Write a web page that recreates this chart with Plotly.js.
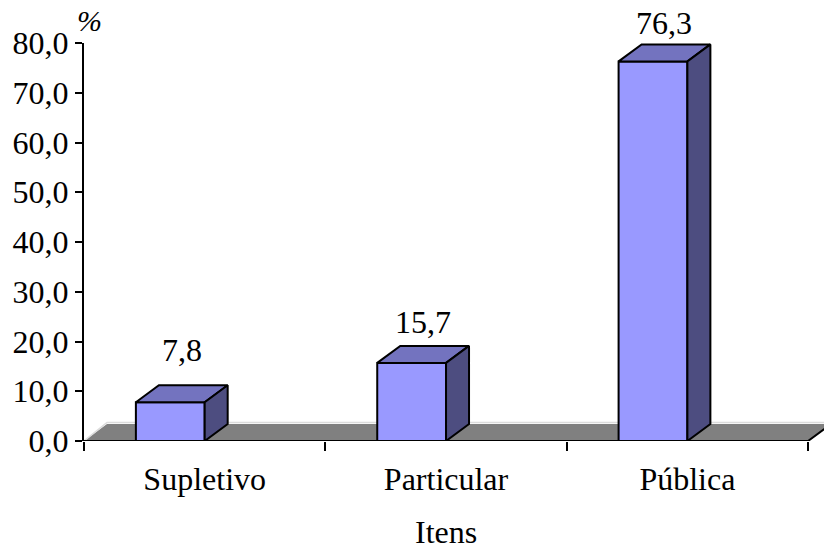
<!DOCTYPE html>
<html><head><meta charset="utf-8">
<script src="https://cdn.plot.ly/plotly-3.0.1.min.js"></script>
<style>html,body{margin:0;padding:0;background:#fff}#chart{width:824px;height:552px}</style>
</head><body><div id="chart"></div>
<script>
// ---- data ----
const categories = ['Supletivo', 'Particular', 'Pública'];
const values = [7.8, 15.7, 76.3];
const yTicks = [0, 10, 20, 30, 40, 50, 60, 70, 80];
const xTitle = 'Itens';
const yUnit = '%';

// ---- geometry / style ----
const DX = 0.0953;          // 3D depth (x units)
const DY = 3.42;            // 3D depth (y units)
const FRONT_L = -0.285;     // front face left, relative to category index
const FRONT_R = 0.0;        // front face right
const labelShift = [35, 24, 21];
const FONT = 'Liberation Serif, Times New Roman, serif';
const FS = 32;
const cFront = '#9999FF', cTop = '#7373BF', cSide = '#4D4D80', cFloor = '#808080';

const xs = categories.map((c, i) => i);
const xMin = -0.5, xMax = -0.5 + 740 / 241.35;

const traces = [];
const poly = (px, py, fill, lw, lc) => ({
  type: 'scatter', mode: 'lines', x: px, y: py, fill: 'toself', fillcolor: fill,
  line: {color: lc || '#000', width: lw}, hoverinfo: 'skip', showlegend: false
});
// floor
const fL = xMin, fR = xs[xs.length - 1] + 0.5;
traces.push(poly([fL, fR, fR + DX, fL + DX, fL], [0, 0, DY, DY, 0], cFloor, 0, cFloor));
traces.push({type: 'scatter', mode: 'lines', x: [fL, fL + DX, fR + DX + 0.2], y: [0, DY + 0.3, DY + 0.3],
  line: {color: '#dcdcdc', width: 1.5}, hoverinfo: 'skip', showlegend: false});
traces.push({type: 'scatter', mode: 'lines', x: [fL, fR, fR + DX], y: [0, 0, DY],
  line: {color: '#000', width: 2}, hoverinfo: 'skip', showlegend: false});

// bars
xs.forEach((x, i) => {
  const v = values[i];
  const l = x + FRONT_L, r = x + FRONT_R;
  traces.push(poly([l, r, r, l, l], [0, 0, v, v, 0], cFront, 2));
  traces.push(poly([l, r, r + DX, l + DX, l], [v, v, v + DY, v + DY, v], cTop, 2));
  traces.push(poly([r, r + DX, r + DX, r, r], [0, DY, v + DY, v, 0], cSide, 2));
});
// dummy trace for category axis
traces.push({type: 'scatter', mode: 'markers', x: [xs[0]], y: [0], xaxis: 'x2', yaxis: 'y',
  marker: {opacity: 0}, hoverinfo: 'skip', showlegend: false});

const annotations = xs.map((x, i) => ({
  x: x + FRONT_L + (FRONT_R - FRONT_L + DX) / 2, y: values[i] + DY, xref: 'x', yref: 'y',
  text: values[i].toFixed(1).replace('.', ','), showarrow: false, yanchor: 'middle', xanchor: 'center',
  yshift: labelShift[i], font: {family: FONT, size: FS, color: '#000'}
}));
annotations.push({x: xs[1], xref: 'x', y: 0, yref: 'paper', text: xTitle, showarrow: false,
  yanchor: 'middle', yshift: -91, borderpad: 0, font: {family: FONT, size: FS, color: '#000'}});
annotations.push({x: 0, xref: 'paper', y: 1, yref: 'paper', text: '<i>' + yUnit + '</i>', showarrow: false,
  xanchor: 'center', yanchor: 'middle', xshift: 5, yshift: 23, font: {family: FONT, size: 30, color: '#000'}});

const layout = {
  width: 824, height: 552,
  margin: {l: 84, r: 0, t: 43, b: 111, pad: 0},
  paper_bgcolor: '#fff', plot_bgcolor: '#fff',
  separators: ',.',
  showlegend: false,
  font: {family: FONT, size: FS, color: '#000'},
  xaxis: {range: [xMin, xMax], tickvals: [-0.5, 0.5, 1.5, 2.5], ticktext: ['', '', '', ''],
    ticks: 'outside', ticklen: 9, tickwidth: 2, tickcolor: '#000',
    showline: false, showgrid: false, zeroline: false, fixedrange: true},
  xaxis2: {overlaying: 'x', anchor: 'y', side: 'bottom', range: [xMin, xMax],
    tickvals: xs, ticktext: categories, ticks: 'outside', ticklen: 10, tickcolor: 'rgba(0,0,0,0)',
    showline: false, showgrid: false, zeroline: false, fixedrange: true,
    tickfont: {family: FONT, size: FS, color: '#000'}},
  yaxis: {range: [0, 80], tickvals: yTicks, tickformat: '.1f', ticks: 'outside', ticklen: 7,
    tickwidth: 2, tickcolor: '#000', showline: true, linewidth: 2, linecolor: '#000',
    showgrid: false, zeroline: false, fixedrange: true,
    tickfont: {family: FONT, size: FS, color: '#000'}},
  annotations: annotations
};
Plotly.newPlot('chart', traces, layout, {displayModeBar: false, staticPlot: true});
</script>
</body></html>
